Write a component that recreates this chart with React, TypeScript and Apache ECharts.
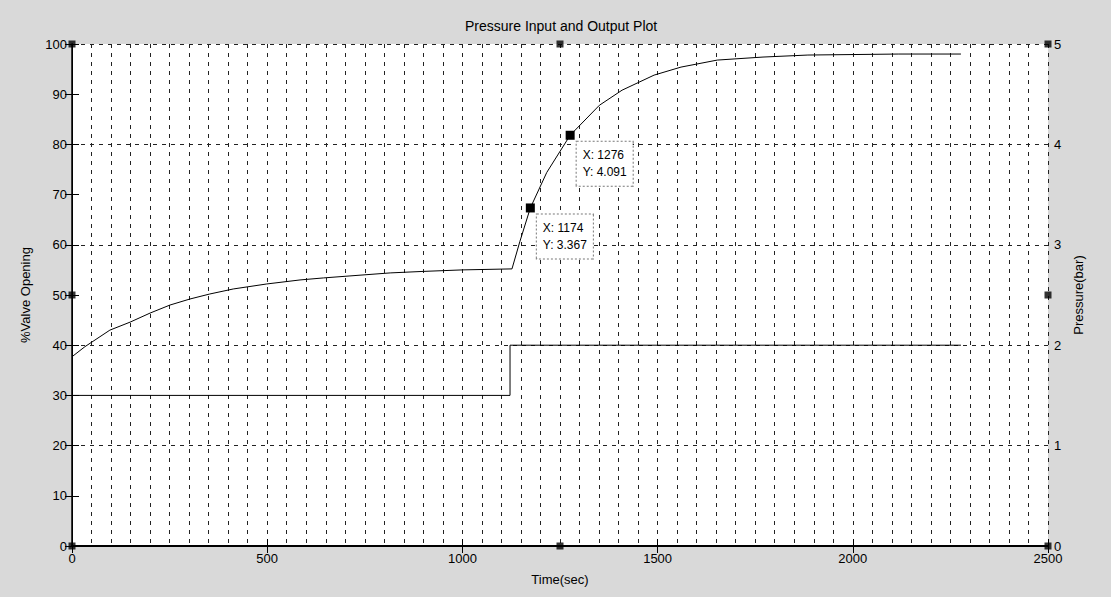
import { useEffect, useRef } from "react";
import * as echarts from "echarts";

// ---- data ----
const inputTime = [0, 1122, 1122, 2277];
const inputValve = [30, 30, 40, 40];

const outputTime = [
  0, 33, 97, 149, 200, 251, 302, 353, 413, 499, 584, 644, 712, 815, 900, 1000,
  1127, 1147, 1174, 1216, 1276, 1351, 1409, 1491, 1560, 1653, 1770, 1885, 2002,
  2118, 2277,
];
const outputPressure = [
  1.885, 1.985, 2.15, 2.23, 2.32, 2.4, 2.46, 2.51, 2.56, 2.61, 2.65, 2.67, 2.69,
  2.72, 2.735, 2.75, 2.76, 3.03, 3.367, 3.72, 4.091, 4.39, 4.54, 4.69, 4.77,
  4.84, 4.87, 4.89, 4.895, 4.9, 4.9,
];

const dataTipX = [1174, 1276];
const dataTipY = [3.367, 4.091];

// axes selection handles (MATLAB edit mode)
const handleX = [0, 0, 0, 1250, 2500, 2500, 2500, 1250];
const handleY = [0, 50, 100, 100, 100, 50, 0, 0];

const titleText = "Pressure Input and Output Plot";
const xName = "Time(sec)";
const yLeftName = "%Valve Opening";
const yRightName = "Pressure(bar)";

const FONT = "'Liberation Sans', Arial, sans-serif";

export default function App() {
  const ref = useRef<HTMLDivElement>(null);

  useEffect(() => {
    if (!ref.current) return;
    const chart = echarts.init(ref.current, undefined, { renderer: "svg" });
    const gridDash = { color: "#222", width: 1, type: [4, 5] as number[] };
    const axisLine = { show: true, lineStyle: { color: "#000", width: 1 } };
    const labelStyle = { color: "#000", fontSize: 13, fontFamily: FONT };
    const plain = (v: number) => String(v);

    chart.setOption({
      animation: false,
      backgroundColor: "transparent",
      textStyle: { fontFamily: FONT },
      title: {
        text: titleText,
        left: 465,
        top: 19,
        padding: 0,
        textStyle: { fontSize: 14, fontWeight: "normal", color: "#000", fontFamily: FONT },
      },
      grid: {
        left: 72,
        top: 44,
        width: 976,
        height: 502,
        show: true,
        backgroundColor: "#fff",
        borderWidth: 0,
      },
      xAxis: [
        {
          type: "value",
          min: 0,
          max: 2500,
          interval: 500,
          position: "bottom",
          name: xName,
          nameLocation: "middle",
          nameGap: 27,
          nameTextStyle: labelStyle,
          axisLine: { show: true, lineStyle: { color: "#000", width: 2 } },
          axisTick: { show: true, inside: true, length: 7, lineStyle: { color: "#000" } },
          axisLabel: { ...labelStyle, margin: 6, formatter: plain },
          splitLine: { show: true, lineStyle: gridDash },
          minorTick: { show: false, splitNumber: 10 },
          minorSplitLine: { show: true, lineStyle: gridDash },
        },
        {
          type: "value",
          min: 0,
          max: 2500,
          interval: 500,
          position: "top",
          axisLine,
          axisTick: { show: true, inside: true, length: 7, lineStyle: { color: "#000" } },
          axisLabel: { show: false },
          splitLine: { show: false },
        },
      ],
      yAxis: [
        {
          type: "value",
          min: 0,
          max: 100,
          interval: 10,
          position: "left",
          name: yLeftName,
          nameLocation: "middle",
          nameRotate: 90,
          nameGap: 40,
          nameTextStyle: labelStyle,
          axisLine: { show: true, lineStyle: { color: "#000", width: 1.5 } },
          axisTick: { show: true, inside: true, length: 7, lineStyle: { color: "#000" } },
          axisLabel: { ...labelStyle, margin: 5, formatter: plain },
          splitLine: { show: false },
        },
        {
          type: "value",
          min: 0,
          max: 5,
          interval: 1,
          position: "right",
          name: yRightName,
          nameLocation: "middle",
          nameRotate: 90,
          nameGap: 11,
          nameTextStyle: labelStyle,
          axisLine,
          axisTick: { show: true, inside: true, length: 7, lineStyle: { color: "#000" } },
          minorTick: { show: true, splitNumber: 2, length: 7, lineStyle: { color: "#000" } },
          axisLabel: { ...labelStyle, margin: 6, formatter: plain },
          splitLine: { show: true, lineStyle: gridDash },
        },
      ],
      series: [
        {
          name: "Input",
          type: "line",
          xAxisIndex: 0,
          yAxisIndex: 0,
          data: inputTime.map((t, i) => [t, inputValve[i]]),
          symbol: "none",
          lineStyle: { color: "#000", width: 1 },
          z: 3,
        },
        {
          name: "Output",
          type: "line",
          xAxisIndex: 0,
          yAxisIndex: 1,
          data: outputTime.map((t, i) => [t, outputPressure[i]]),
          symbol: "none",
          lineStyle: { color: "#000", width: 1 },
          z: 3,
          markPoint: {
            symbol: "rect",
            symbolSize: 9,
            itemStyle: { color: "#000" },
            data: dataTipX.map((x, i) => ({
              coord: [x, dataTipY[i]],
              name: `X: ${x}\nY: ${dataTipY[i].toFixed(3)}`,
            })),
            label: {
              show: true,
              position: [11, 11],
              formatter: "{b}",
              align: "left",
              verticalAlign: "top",
              color: "#000",
              fontSize: 12,
              fontFamily: FONT,
              lineHeight: 17,
              backgroundColor: "#fff",
              borderColor: "#777",
              borderWidth: 1,
              borderType: "dotted",
              padding: [5, 6],
            },
          },
        },
        {
          name: "handles",
          type: "scatter",
          xAxisIndex: 0,
          yAxisIndex: 0,
          data: handleX.map((x, i) => [x, handleY[i]]),
          symbol: "rect",
          symbolSize: 7,
          itemStyle: { color: "#000" },
          clip: false,
          z: 10,
          silent: true,
        },
      ],
    });
    return () => chart.dispose();
  }, []);

  return (
    <div
      ref={ref}
      style={{
        position: "fixed",
        left: 0,
        top: 0,
        width: 1111,
        height: 597,
        background: "#d9d9d9",
      }}
    />
  );
}
